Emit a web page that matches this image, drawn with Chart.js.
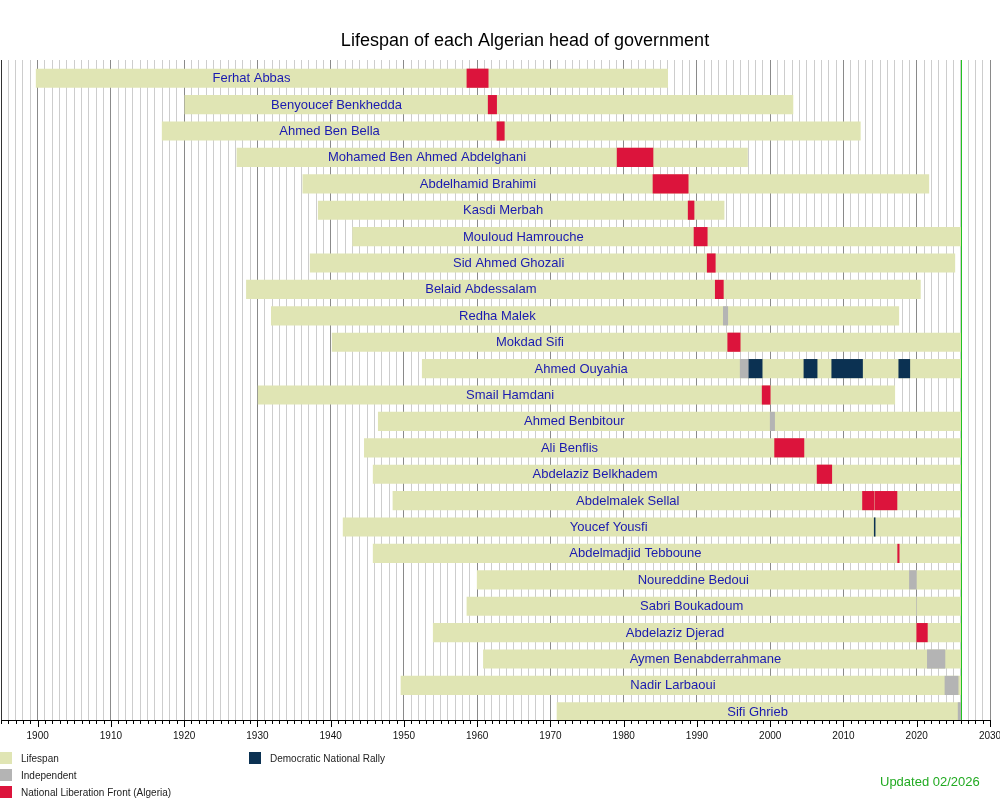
<!DOCTYPE html>
<html>
<head>
<meta charset="utf-8">
<title>Lifespan of each Algerian head of government</title>
<script src="https://cdn.jsdelivr.net/npm/chart.js@4.4.1/dist/chart.umd.min.js"></script>
<style>
  html, body { margin: 0; padding: 0; background: #fff; }
  canvas { display: block; }
</style>
</head>
<body>
<canvas id="grafico" width="1000" height="800"></canvas>
<script>
// rows, top to bottom
const names = [
  "Ferhat Abbas", "Benyoucef Benkhedda", "Ahmed Ben Bella",
  "Mohamed Ben Ahmed Abdelghani", "Abdelhamid Brahimi", "Kasdi Merbah",
  "Mouloud Hamrouche", "Sid Ahmed Ghozali", "Belaid Abdessalam",
  "Redha Malek", "Mokdad Sifi", "Ahmed Ouyahia", "Smail Hamdani",
  "Ahmed Benbitour", "Ali Benflis", "Abdelaziz Belkhadem",
  "Abdelmalek Sellal", "Youcef Yousfi", "Abdelmadjid Tebboune",
  "Noureddine Bedoui", "Sabri Boukadoum", "Abdelaziz Djerad",
  "Aymen Benabderrahmane", "Nadir Larbaoui", "Sifi Ghrieb"
];

// years as decimals
const born = [
  1899.8, 1920.1, 1917.0, 1927.2, 1936.2, 1938.3, 1943.0, 1937.2, 1928.5,
  1931.9, 1940.2, 1952.5, 1930.1, 1946.5, 1944.6, 1945.8, 1948.5, 1941.7,
  1945.8, 1960.0, 1958.6, 1954.0, 1960.85, 1949.6, 1970.9
];
// null = still alive
const died = [
  1986.0, 2003.1, 2012.3, 1996.9, 2021.65, 1993.7, null, 2025.2, 2020.5,
  2017.55, null, null, 2017.0, null, null, null, null, null,
  null, null, null, null, null, null, null
];
const updatedYear = 2026.1;

// [name, start, end]
const flnTerms = [
  ["Ferhat Abbas", 1958.6, 1961.5],
  ["Benyoucef Benkhedda", 1961.5, 1962.65],
  ["Ahmed Ben Bella", 1962.7, 1963.7],
  ["Mohamed Ben Ahmed Abdelghani", 1979.1, 1984.0],
  ["Abdelhamid Brahimi", 1984.0, 1988.8],
  ["Kasdi Merbah", 1988.8, 1989.6],
  ["Mouloud Hamrouche", 1989.6, 1991.4],
  ["Sid Ahmed Ghozali", 1991.4, 1992.5],
  ["Belaid Abdessalam", 1992.5, 1993.6],
  ["Mokdad Sifi", 1994.2, 1995.9],
  ["Smail Hamdani", 1998.9, 2000.0],
  ["Ali Benflis", 2000.6, 2004.6],
  ["Abdelaziz Belkhadem", 2006.4, 2008.4],
  ["Abdelmalek Sellal", 2012.6, 2014.2],
  ["Abdelmalek Sellal", 2014.35, 2017.3],
  ["Abdelmadjid Tebboune", 2017.4, 2017.6],
  ["Abdelaziz Djerad", 2020.0, 2021.45]
];
const indepTerms = [
  ["Redha Malek", 1993.6, 1994.2],
  ["Ahmed Ouyahia", 1995.9, 1997.0],
  ["Ahmed Benbitour", 2000.0, 2000.6],
  ["Noureddine Bedoui", 2019.0, 2019.95],
  ["Sabri Boukadoum", 2019.97, 2019.975],
  ["Aymen Benabderrahmane", 2021.45, 2023.85],
  ["Nadir Larbaoui", 2023.85, 2025.65],
  ["Sifi Ghrieb", 2025.65, 2026.1]
];
const rndTerms = [
  ["Ahmed Ouyahia", 1997.0, 1998.9],
  ["Ahmed Ouyahia", 2004.6, 2006.4],
  ["Ahmed Ouyahia", 2008.4, 2012.6],
  ["Ahmed Ouyahia", 2017.55, 2019.05],
  ["Youcef Yousfi", 2014.2, 2014.32]
];

const allTerms = flnTerms.concat(indepTerms, rndTerms);
const filaDe = n => names.indexOf(n);
const barras = lista => lista.map(([n, ini, fin]) => ({ x: [ini, fin], y: filaDe(n) }));

const FUENTE = '"Liberation Sans", Arial, sans-serif';

// nombres, linea de hoy, ticks, titulo, leyenda
const extras = {
  id: "extras",
  beforeDraw(chart) {
    const ctx = chart.ctx;
    ctx.save();
    ctx.fillStyle = "#fff";
    ctx.fillRect(0, 0, chart.width, chart.height);
    ctx.restore();
  },
  afterDatasetsDraw(chart) {
    const { ctx, chartArea: a, scales: { x, y } } = chart;
    ctx.save();

    // linea "hoy"
    const hx = Math.round(x.getPixelForValue(updatedYear)) + 0.5;
    ctx.strokeStyle = "#22c422";
    ctx.lineWidth = 1;
    ctx.beginPath();
    ctx.moveTo(hx, a.top);
    ctx.lineTo(hx, a.bottom);
    ctx.stroke();

    // borde izquierdo
    ctx.strokeStyle = "#333";
    ctx.beginPath();
    ctx.moveTo(a.left + 0.5, a.top);
    ctx.lineTo(a.left + 0.5, a.bottom);
    ctx.stroke();

    // nombres
    ctx.font = "13px " + FUENTE;
    ctx.fillStyle = "#1a1ab0";
    ctx.textAlign = "center";
    ctx.textBaseline = "middle";
    names.forEach((n, i) => {
      const primero = Math.min(...allTerms.filter(t => t[0] === n).map(t => t[1]));
      ctx.fillText(n, x.getPixelForValue((born[i] + primero) / 2), y.getPixelForValue(i) + 0.5);
    });

    // marcas del eje
    ctx.strokeStyle = "#000";
    ctx.beginPath();
    for (let v = Math.ceil(x.min); v <= x.max; v++) {
      const px = Math.round(x.getPixelForValue(v)) + 0.5;
      const largo = v % 10 === 0 ? 7 : 4;
      ctx.moveTo(px, a.bottom);
      ctx.lineTo(px, a.bottom + largo);
    }
    ctx.stroke();
    ctx.restore();
  },
  afterDraw(chart) {
    const ctx = chart.ctx;
    ctx.save();

    ctx.fillStyle = "#000";
    ctx.font = "18px " + FUENTE;
    ctx.textAlign = "center";
    ctx.textBaseline = "middle";
    ctx.fillText("Lifespan of each Algerian head of government", 525, 41);

    // leyenda en dos columnas
    const orden = ["Lifespan", "Independent", "National Liberation Front (Algeria)", "Democratic National Rally"];
    const pos = [[0, 752], [0, 769], [0, 786], [249, 752]];
    ctx.font = "10px " + FUENTE;
    ctx.textAlign = "left";
    orden.forEach((lab, k) => {
      const ds = chart.data.datasets.find(d => d.label === lab);
      const [lx, ly] = pos[k];
      ctx.fillStyle = ds.backgroundColor;
      ctx.fillRect(lx, ly, 12, 12);
      ctx.fillStyle = "#222";
      ctx.fillText(lab, lx + 21, ly + 7);
    });

    ctx.fillStyle = "#22aa22";
    ctx.font = "13px " + FUENTE;
    ctx.fillText("Updated 02/2026", 880, 782);
    ctx.restore();
  }
};

const comun = {
  grouped: false,
  barThickness: 18.5,
  categoryPercentage: 1,
  barPercentage: 1,
  borderWidth: 0,
  borderSkipped: false
};

new Chart(document.getElementById("grafico").getContext("2d"), {
  type: "bar",
  data: {
    datasets: [
      { ...comun, label: "Independent", data: barras(indepTerms), backgroundColor: "#b4b4b4", order: 0 },
      { ...comun, label: "National Liberation Front (Algeria)", data: barras(flnTerms), backgroundColor: "#dc143c", order: 0 },
      { ...comun, label: "Democratic National Rally", data: barras(rndTerms), backgroundColor: "#0b3152", order: 0 },
      {
        ...comun,
        label: "Lifespan",
        data: names.map((n, i) => ({ x: [born[i], died[i] ?? updatedYear], y: i })),
        backgroundColor: "#e0e5b4",
        order: 1
      }
    ]
  },
  options: {
    indexAxis: "y",
    responsive: false,
    animation: false,
    layout: { padding: { left: 1, right: 10, top: 60, bottom: 0 } },
    plugins: {
      legend: { display: false },
      title: { display: false },
      tooltip: { enabled: false }
    },
    scales: {
      x: {
        type: "linear",
        min: 1895,
        max: 2030,
        afterFit(s) {
          s.height = 80;
          s.paddingLeft = 0;
          s.paddingRight = 0;
        },
        ticks: {
          stepSize: 1,
          maxTicksLimit: 1000,
          autoSkip: false,
          maxRotation: 0,
          minRotation: 0,
          padding: 10,
          color: "#111",
          font: { size: 10, family: FUENTE },
          callback: v => (v % 10 === 0 ? String(v) : "")
        },
        grid: {
          drawTicks: false,
          color: c => (c.tick && c.tick.value % 10 === 0 ? "#8a8a8a" : "#cdcdcd"),
          lineWidth: 1
        },
        border: { color: "#000", width: 1 }
      },
      y: {
        type: "linear",
        display: false,
        reverse: true,
        offset: false,
        bounds: "data",
        min: -0.69,
        max: 24.31,
        grid: { offset: false }
      }
    }
  },
  plugins: [extras]
});
</script>
</body>
</html>
